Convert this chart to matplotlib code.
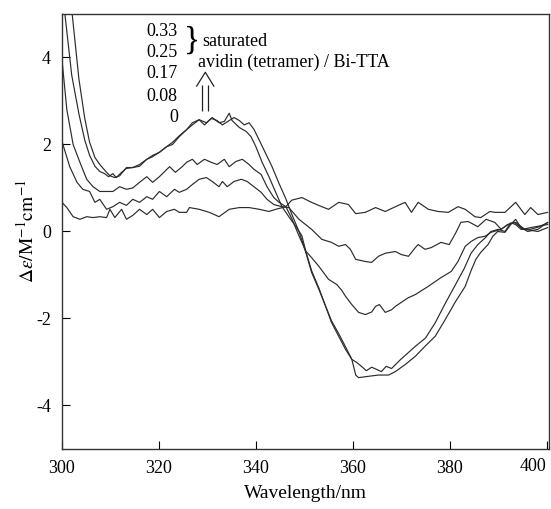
import matplotlib
matplotlib.use("Agg")
import matplotlib.pyplot as plt

plt.rcParams["font.family"] = ["Liberation Serif", "DejaVu Serif"]
plt.rcParams["mathtext.fontset"] = "stix"

# ratio 0
wl_0 = [300.0, 301.0, 302.3, 303.7, 305.1, 306.4, 307.8, 309.2, 309.9, 310.9, 312.3, 313.3,
        314.6, 316.0, 317.5, 318.7, 320.1, 321.6, 323.2, 324.2, 325.7, 326.3, 328.3, 330.4,
        332.4, 334.5, 336.6, 338.6, 340.7, 342.7, 344.1, 346.2, 347.4, 349.5, 351.5, 353.6,
        355.0, 357.1, 359.1, 360.6, 362.6, 364.7, 366.7, 368.8, 370.8, 372.1, 373.5, 375.6,
        377.6, 379.7, 381.7, 383.2, 385.2, 386.4, 388.3, 389.3, 391.4, 393.6, 395.5, 396.7,
        398.2, 400.2]
de_0 = [0.67, 0.55, 0.34, 0.28, 0.34, 0.32, 0.34, 0.32, 0.51, 0.32, 0.51, 0.28,
        0.37, 0.51, 0.39, 0.51, 0.32, 0.46, 0.51, 0.44, 0.44, 0.55, 0.51, 0.44,
        0.34, 0.51, 0.55, 0.55, 0.51, 0.46, 0.51, 0.57, 0.72, 0.78, 0.67, 0.57,
        0.51, 0.67, 0.62, 0.41, 0.44, 0.55, 0.46, 0.57, 0.67, 0.44, 0.67, 0.51,
        0.46, 0.44, 0.57, 0.51, 0.34, 0.32, 0.46, 0.44, 0.44, 0.67, 0.39, 0.55,
        0.39, 0.44]

# ratio 0.08
wl_008 = [300.0, 301.6, 303.1, 304.3, 305.7, 306.8, 307.8, 309.2, 310.5, 311.9, 313.3, 314.6,
          316.0, 317.5, 318.7, 320.1, 321.6, 323.2, 324.2, 325.7, 326.9, 328.3, 329.8, 331.0,
          332.4, 333.1, 334.1, 335.5, 337.0, 338.2, 339.6, 341.1, 342.3, 343.7, 345.4, 346.8,
          348.9, 351.5, 353.6, 355.6, 357.1, 358.5, 359.5, 360.6, 362.6, 363.9, 365.3, 366.7,
          368.8, 370.0, 371.5, 372.9, 373.5, 374.9, 376.2, 378.2, 379.9, 381.3, 382.3, 383.8,
          385.8, 387.5, 389.3, 390.6, 392.0, 393.6, 395.5, 398.2, 400.2]
de_008 = [2.07, 1.49, 1.13, 0.97, 0.92, 0.67, 0.74, 0.51, 0.57, 0.67, 0.60, 0.74,
          0.67, 0.80, 0.74, 0.92, 0.80, 0.97, 0.90, 0.97, 1.08, 1.20, 1.24, 1.15,
          1.03, 1.15, 1.03, 1.15, 1.20, 1.15, 1.03, 0.90, 0.74, 0.62, 0.57, 0.55,
          0.28, 0.05, -0.18, -0.25, -0.34, -0.30, -0.41, -0.64, -0.69, -0.71, -0.57, -0.50,
          -0.46, -0.53, -0.57, -0.37, -0.30, -0.41, -0.37, -0.25, -0.30, -0.02, 0.21, 0.23,
          0.11, 0.28, 0.21, 0.05, 0.16, 0.21, 0.05, 0.00, 0.09]

# ratio 0.17
wl_017 = [300.0, 301.0, 302.3, 303.7, 305.1, 306.4, 307.8, 309.2, 310.5, 311.9, 313.3, 314.6,
          316.0, 317.5, 318.7, 320.1, 322.2, 323.4, 324.8, 325.7, 326.9, 327.9, 329.4, 330.8,
          332.0, 333.5, 334.5, 335.9, 337.2, 338.6, 339.6, 341.1, 342.3, 343.7, 344.8, 346.2,
          347.4, 348.9, 350.3, 351.5, 353.0, 355.0, 356.7, 357.7, 358.5, 359.8, 361.2, 362.6,
          363.9, 364.7, 365.5, 366.7, 368.0, 368.8, 370.4, 371.5, 372.9, 375.6, 378.2, 380.3,
          381.7, 383.2, 384.4, 385.8, 387.3, 388.5, 390.6, 392.0, 393.4, 395.1, 396.7, 400.2]
de_017 = [3.95, 2.80, 2.00, 1.59, 1.20, 1.03, 0.92, 0.92, 0.92, 1.03, 0.97, 1.00,
          1.13, 1.26, 1.13, 1.26, 1.49, 1.36, 1.49, 1.59, 1.66, 1.54, 1.66, 1.59,
          1.54, 1.66, 1.49, 1.61, 1.66, 1.54, 1.43, 1.31, 1.03, 0.78, 0.67, 0.57,
          0.30, -0.10, -0.45, -0.60, -0.80, -1.10, -1.22, -1.35, -1.49, -1.68, -1.86, -1.91,
          -1.85, -1.72, -1.68, -1.86, -1.80, -1.72, -1.60, -1.52, -1.45, -1.26, -1.06, -0.92,
          -0.69, -0.34, -0.23, -0.14, -0.11, -0.02, 0.05, 0.16, 0.21, 0.05, 0.09, 0.16]

# ratio 0.25
wl_025 = [300.0, 300.6, 302.0, 303.5, 304.7, 305.7, 306.8, 307.8, 308.8, 309.6, 310.5, 311.2,
          312.3, 313.3, 314.6, 316.0, 317.5, 318.7, 320.1, 321.6, 322.8, 324.2, 325.7, 326.9,
          328.3, 329.8, 331.0, 332.4, 333.5, 334.5, 335.1, 336.6, 338.0, 339.0, 340.0, 341.3,
          342.7, 344.1, 345.4, 346.8, 348.3, 349.5, 350.3, 351.5, 353.0, 354.4, 355.6, 357.1,
          358.5, 359.8, 360.6, 361.2, 363.2, 365.3, 367.4, 368.8, 370.8, 372.9, 374.9, 377.0,
          379.1, 381.1, 383.2, 384.4, 385.4, 386.4, 387.9, 388.9, 389.9, 391.4, 392.6, 393.6,
          394.7, 396.1, 398.2, 400.2]
de_025 = [6.20, 5.00, 3.60, 2.70, 2.10, 1.75, 1.50, 1.38, 1.33, 1.26, 1.33, 1.24,
          1.36, 1.45, 1.47, 1.50, 1.66, 1.75, 1.82, 1.95, 2.05, 2.20, 2.34, 2.50,
          2.57, 2.50, 2.62, 2.50, 2.53, 2.72, 2.55, 2.39, 2.30, 2.18, 1.95, 1.59,
          1.26, 0.90, 0.57, 0.34, 0.11, -0.10, -0.45, -0.90, -1.30, -1.72, -2.05, -2.35,
          -2.65, -2.94, -3.30, -3.36, -3.33, -3.30, -3.30, -3.22, -3.06, -2.87, -2.64, -2.41,
          -2.02, -1.63, -1.26, -0.90, -0.64, -0.48, -0.30, -0.11, 0.00, -0.02, 0.16, 0.28,
          0.09, 0.00, 0.05, 0.21]

# ratio 0.33
wl_033 = [300.0, 302.1, 303.5, 304.7, 305.7, 306.8, 307.8, 309.2, 309.9, 310.9, 311.9, 313.3,
          314.6, 316.0, 317.5, 318.7, 320.1, 321.6, 322.8, 324.2, 325.7, 326.9, 328.3, 329.4,
          330.8, 332.0, 333.1, 334.5, 335.5, 336.6, 337.6, 338.6, 339.6, 340.7, 342.0, 343.3,
          344.8, 346.2, 347.4, 348.9, 350.3, 351.5, 353.0, 354.4, 355.6, 357.1, 358.5, 359.8,
          360.8, 361.8, 362.8, 363.9, 364.9, 365.9, 366.9, 368.0, 369.8, 371.5, 372.9, 375.0,
          377.0, 379.1, 381.3, 383.0, 384.4, 385.8, 387.3, 388.5, 390.0, 391.4, 392.6, 393.6,
          394.7, 396.7, 398.2, 400.2]
de_033 = [7.50, 5.00, 3.50, 2.60, 2.05, 1.70, 1.54, 1.36, 1.28, 1.24, 1.28, 1.47,
          1.47, 1.54, 1.66, 1.72, 1.82, 1.95, 2.00, 2.18, 2.34, 2.45, 2.57, 2.45,
          2.60, 2.55, 2.45, 2.55, 2.62, 2.55, 2.45, 2.50, 2.35, 2.10, 1.80, 1.50,
          1.10, 0.75, 0.40, 0.00, -0.48, -0.94, -1.33, -1.72, -2.09, -2.41, -2.71, -2.94,
          -3.01, -3.10, -3.20, -3.12, -3.17, -3.22, -3.10, -3.15, -2.95, -2.78, -2.64, -2.45,
          -2.10, -1.65, -1.20, -0.85, -0.50, -0.30, -0.15, 0.00, 0.05, 0.00, 0.20, 0.16,
          0.05, 0.05, 0.10, 0.20]

series = [
    (wl_0, de_0),
    (wl_008, de_008),
    (wl_017, de_017),
    (wl_025, de_025),
    (wl_033, de_033),
]
ratio_labels = ["0.33", "0.25", "0.17", "0.08", "0"]

fig = plt.figure(figsize=(5.51, 5.09), dpi=100)
ax = fig.add_axes([0.1125, 0.1179, 0.884, 0.8546])

for wl, de in series:
    ax.plot(wl, de, color="#2b2b2b", linewidth=0.85)

ax.set_xlim(300, 400.5)
ax.set_ylim(-5, 5)
ax.set_xticks([300, 320, 340, 360, 380, 400])
ax.set_yticks([-4, -2, 0, 2, 4])
ax.set_yticklabels(["-4", "-2", "0", "2", "4"])
ax.tick_params(direction="in", length=6, width=0.8, labelsize=13, pad=8)
# last x label sits inside the frame, a little raised
last = ax.get_xticklabels()[-1]
last.set_horizontalalignment("right")
last.set_y(0.005)

for side in ["left", "bottom", "top", "right"]:
    ax.spines[side].set_linewidth(1.0)
    ax.spines[side].set_color("#333333")

ax.set_xlabel("Wavelength/nm", fontsize=14, labelpad=6)
ax.set_ylabel(r"$\Delta\varepsilon/\mathrm{M}^{-1}\mathrm{cm}^{-1}$", fontsize=14, labelpad=-1)

# ratio labels
label_y = [4.6, 4.12, 3.63, 3.10, 2.62]
for txt, y in zip(ratio_labels, label_y):
    ax.text(323.9, y, txt, ha="right", va="center", fontsize=13)

ax.text(326.8, 4.40, "}", ha="center", va="center", fontsize=24, fontweight="light")
ax.text(328.9, 4.37, "saturated", ha="left", va="center", fontsize=13)
ax.text(328.1, 3.88, "avidin (tetramer) / Bi-TTA", ha="left", va="center", fontsize=13)

# open double arrow
arr_kw = dict(color="#222222", linewidth=0.9, solid_capstyle="butt")
ax.plot([328.95, 328.95], [2.76, 3.36], **arr_kw)
ax.plot([330.18, 330.18], [2.76, 3.36], **arr_kw)
ax.plot([327.72, 329.57, 331.4], [3.33, 3.66, 3.33], **arr_kw)

fig.savefig("out.png", dpi=100)
